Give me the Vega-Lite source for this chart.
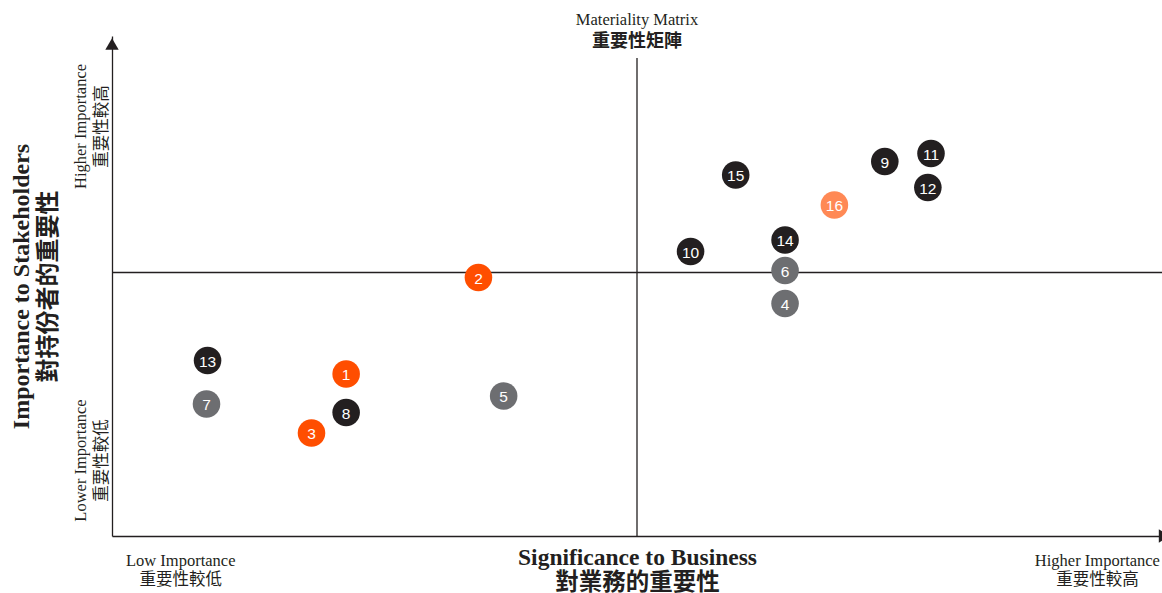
{
  "$schema": "https://vega.github.io/schema/vega-lite/v6.json",
  "width": 1050,
  "height": 500,
  "autosize": "none",
  "padding": {"left": 112, "top": 36, "right": 0, "bottom": 57},
  "background": "white",
  "config": {"view": {"stroke": null}},
  "title": {
    "text": "Materiality Matrix",
    "subtitle": "重要性矩陣",
    "anchor": "middle",
    "font": "'Liberation Serif', 'Noto Sans CJK TC'",
    "fontSize": 16.5,
    "fontWeight": "normal",
    "color": "#231F20",
    "subtitleFont": "'Noto Sans CJK TC'",
    "subtitleFontSize": 18,
    "subtitleFontWeight": "bold",
    "subtitleColor": "#231F20",
    "subtitlePadding": 5,
    "offset": -15
  },
  "datasets": {
    "issues": [
      {"id": "1", "business": 22.3, "stakeholders": 32.4, "tier": "A"},
      {"id": "2", "business": 34.9, "stakeholders": 51.7, "tier": "A"},
      {"id": "3", "business": 19.0, "stakeholders": 20.6, "tier": "A"},
      {"id": "4", "business": 64.1, "stakeholders": 46.5, "tier": "C"},
      {"id": "5", "business": 37.3, "stakeholders": 28.0, "tier": "C"},
      {"id": "6", "business": 64.1, "stakeholders": 53.1, "tier": "C"},
      {"id": "7", "business": 9.0, "stakeholders": 26.4, "tier": "C"},
      {"id": "8", "business": 22.3, "stakeholders": 24.7, "tier": "D"},
      {"id": "9", "business": 73.6, "stakeholders": 74.9, "tier": "D"},
      {"id": "10", "business": 55.1, "stakeholders": 56.9, "tier": "D"},
      {"id": "11", "business": 78.0, "stakeholders": 76.5, "tier": "D"},
      {"id": "12", "business": 77.7, "stakeholders": 69.7, "tier": "D"},
      {"id": "13", "business": 9.1, "stakeholders": 35.1, "tier": "D"},
      {"id": "14", "business": 64.1, "stakeholders": 59.2, "tier": "D"},
      {"id": "15", "business": 59.4, "stakeholders": 72.2, "tier": "D"},
      {"id": "16", "business": 68.8, "stakeholders": 66.2, "tier": "B"}
    ],
    "vline": [{"business": 50, "stakeholders": 0, "stakeholders2": 95.6}],
    "hline": [{"stakeholders": 52.7}],
    "uparrow": [{"business": 0, "stakeholders": 98.4}],
    "rightarrow": [{"business": 100.25, "stakeholders": 0}]
  },
  "layer": [
    {
      "data": {"name": "vline"},
      "mark": {"type": "rule", "color": "#231F20", "strokeWidth": 1.3},
      "encoding": {
        "x": {"field": "business", "type": "quantitative"},
        "y": {"field": "stakeholders", "type": "quantitative"},
        "y2": {"field": "stakeholders2"}
      }
    },
    {
      "data": {"name": "hline"},
      "mark": {"type": "rule", "color": "#231F20", "strokeWidth": 1.3},
      "encoding": {
        "y": {"field": "stakeholders", "type": "quantitative"}
      }
    },
    {
      "data": {"name": "issues"},
      "mark": {"type": "circle", "size": 760, "opacity": 1},
      "encoding": {
        "x": {
          "field": "business",
          "type": "quantitative",
          "scale": {"domain": [0, 100], "nice": false, "zero": false},
          "axis": {
            "values": [6.5, 93.8],
            "labelExpr": "datum.value < 50 ? ['Low Importance', '重要性較低'] : ['Higher Importance', '重要性較高']",
            "ticks": false,
            "grid": false,
            "domainColor": "#231F20",
            "domainWidth": 1.3,
            "labelFont": "'Liberation Serif', 'Noto Sans CJK TC'",
            "labelFontSize": 16.5,
            "labelColor": "#231F20",
            "labelPadding": 16,
            "labelLineHeight": 19,
            "labelFlush": false,
            "labelOverlap": false,
            "labelBaseline": "top",
            "labelAlign": "center",
            "title": ["Significance to Business", "對業務的重要性"],
            "titleFont": "'Liberation Serif', 'Noto Sans CJK TC'",
            "titleFontSize": 23.5,
            "titleFontWeight": "bold",
            "titleColor": "#231F20",
            "titleLineHeight": 25,
            "titleBaseline": "top",
            "titleY": 9,
            "titleAnchor": "middle"
          }
        },
        "y": {
          "field": "stakeholders",
          "type": "quantitative",
          "scale": {"domain": [0, 100], "nice": false, "zero": false},
          "axis": {
            "values": [15.2, 82],
            "labelExpr": "datum.value < 50 ? ['Lower Importance', '重要性較低'] : ['Higher Importance', '重要性較高']",
            "ticks": false,
            "grid": false,
            "domainColor": "#231F20",
            "domainWidth": 1.3,
            "labelFont": "'Liberation Serif', 'Noto Sans CJK TC'",
            "labelFontSize": 16.5,
            "labelColor": "#231F20",
            "labelAngle": -90,
            "labelAlign": "center",
            "labelBaseline": "bottom",
            "labelPadding": 24,
            "labelLineHeight": 21,
            "labelFlush": false,
            "labelOverlap": false,
            "title": ["Importance to Stakeholders", "對持份者的重要性"],
            "titleFont": "'Liberation Serif', 'Noto Sans CJK TC'",
            "titleFontSize": 24,
            "titleFontWeight": "bold",
            "titleColor": "#231F20",
            "titleLineHeight": 27,
            "titleAngle": -90,
            "titleAlign": "center",
            "titleBaseline": "bottom",
            "titleX": -79,
            "titleY": 250
          }
        },
        "color": {
          "field": "tier",
          "type": "nominal",
          "scale": {"domain": ["A", "B", "C", "D"], "range": ["#FF4E00", "#FF8955", "#6D6E71", "#231F20"]},
          "legend": null
        }
      }
    },
    {
      "data": {"name": "issues"},
      "mark": {"type": "text", "font": "'Liberation Sans'", "fontSize": 15.5, "color": "white", "baseline": "middle", "align": "center", "dy": 1},
      "encoding": {
        "x": {"field": "business", "type": "quantitative"},
        "y": {"field": "stakeholders", "type": "quantitative"},
        "text": {"field": "id"}
      }
    },
    {
      "data": {"name": "uparrow"},
      "mark": {"type": "point", "shape": "triangle-up", "size": 180, "filled": true, "opacity": 1, "color": "#231F20"},
      "encoding": {
        "x": {"field": "business", "type": "quantitative"},
        "y": {"field": "stakeholders", "type": "quantitative"}
      }
    },
    {
      "data": {"name": "rightarrow"},
      "mark": {"type": "point", "shape": "triangle-right", "size": 180, "filled": true, "opacity": 1, "color": "#231F20"},
      "encoding": {
        "x": {"field": "business", "type": "quantitative"},
        "y": {"field": "stakeholders", "type": "quantitative"}
      }
    }
  ]
}
